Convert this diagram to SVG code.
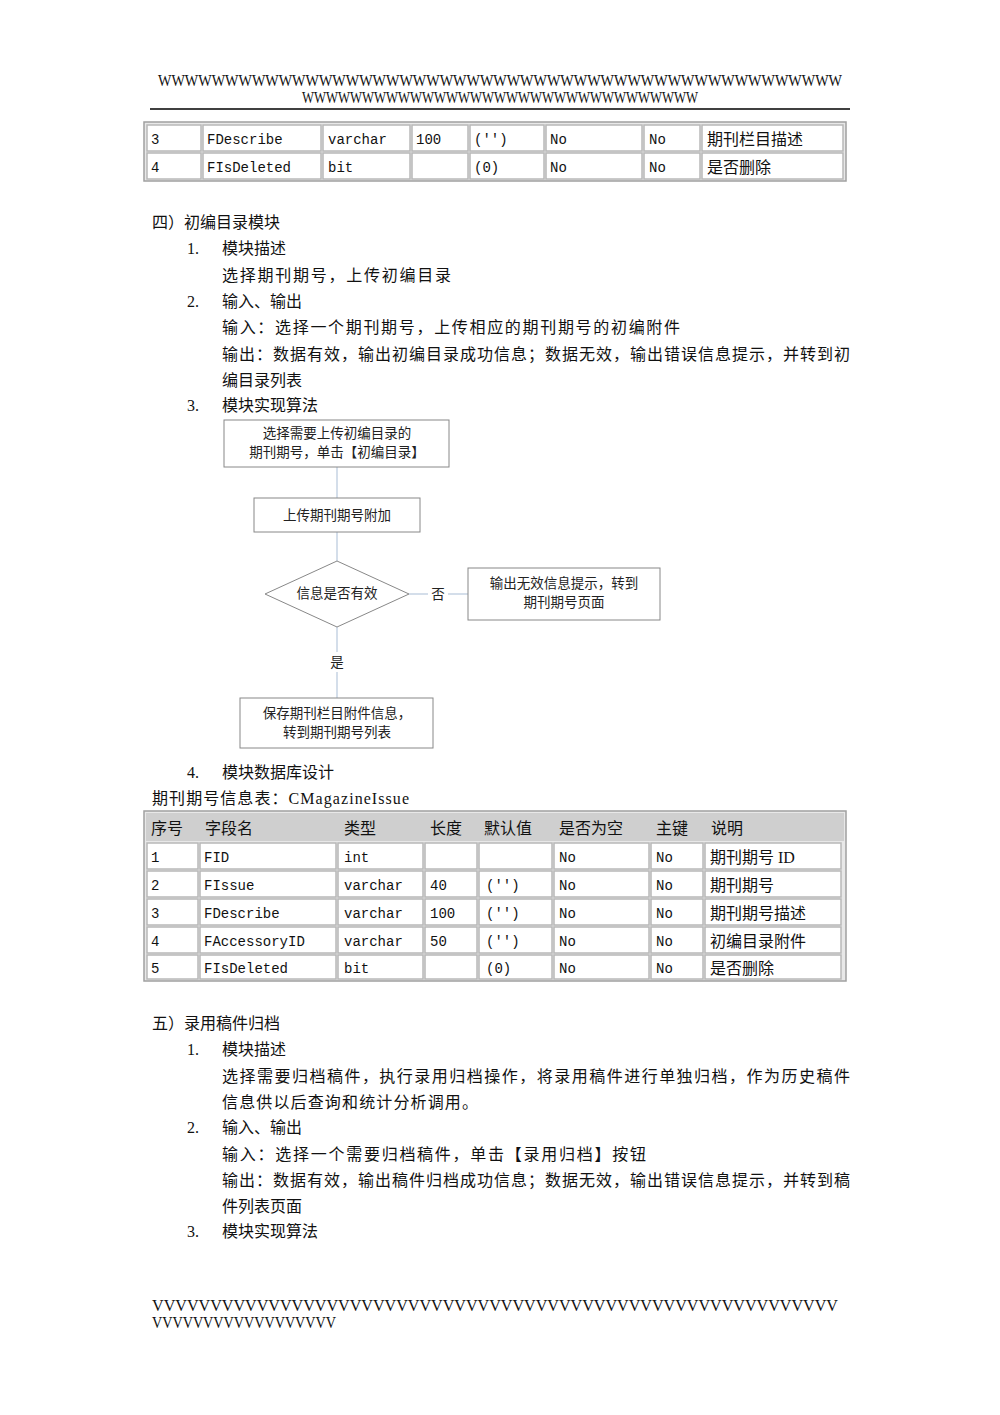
<svg xmlns="http://www.w3.org/2000/svg" width="1000" height="1415" viewBox="0 0 1000 1415">
<style>
.t{font-family:"Liberation Serif","Noto Sans CJK SC",serif;font-size:16px;fill:#111}
.m{font-family:"Liberation Mono","Noto Sans CJK SC",monospace;font-size:14px;fill:#111}
.f{font-family:"Liberation Serif","Noto Sans CJK SC",serif;font-size:13.5px;fill:#222;text-anchor:middle}
.c{fill:#fff;stroke:#b8b8b8;stroke-width:1.5}
.o{fill:#e8e8e8;stroke:#a0a0a0;stroke-width:1.5}
.b{fill:#fff;stroke:#888;stroke-width:1}
.l{stroke:#b8c8dc;stroke-width:1.2;fill:none}
</style>
<rect width="1000" height="1415" fill="#fff"/>
<text class="t" x="158" y="86" font-size="15" textLength="684" lengthAdjust="spacingAndGlyphs">WWWWWWWWWWWWWWWWWWWWWWWWWWWWWWWWWWWWWWWWWWWWWWWWWWW</text>
<text class="t" x="302" y="103" font-size="15" textLength="396" lengthAdjust="spacingAndGlyphs">WWWWWWWWWWWWWWWWWWWWWWWWWWWWWWWWW</text>
<line x1="150" y1="109" x2="850" y2="109" stroke="#000" stroke-width="1.5"/>
<g id="table1">
<rect class="o" x="144" y="122" width="702" height="59"/>
<g>
<rect class="c" x="147" y="125" width="54" height="26"/><rect class="c" x="203" y="125" width="118" height="26"/><rect class="c" x="323" y="125" width="87" height="26"/><rect class="c" x="412" y="125" width="56" height="26"/><rect class="c" x="470" y="125" width="74" height="26"/><rect class="c" x="546" y="125" width="96" height="26"/><rect class="c" x="644" y="125" width="56" height="26"/><rect class="c" x="702" y="125" width="141" height="26"/>
<rect class="c" x="147" y="153" width="54" height="26"/><rect class="c" x="203" y="153" width="118" height="26"/><rect class="c" x="323" y="153" width="87" height="26"/><rect class="c" x="412" y="153" width="56" height="26"/><rect class="c" x="470" y="153" width="74" height="26"/><rect class="c" x="546" y="153" width="96" height="26"/><rect class="c" x="644" y="153" width="56" height="26"/><rect class="c" x="702" y="153" width="141" height="26"/>
</g>
<text class="m" x="151" y="144">3</text><text class="m" x="207" y="144">FDescribe</text><text class="m" x="328" y="144">varchar</text><text class="m" x="416" y="144">100</text><text class="m" x="474" y="144">('')</text><text class="m" x="550" y="144">No</text><text class="m" x="649" y="144">No</text><text class="t" x="707" y="145">期刊栏目描述</text>
<text class="m" x="151" y="172">4</text><text class="m" x="207" y="172">FIsDeleted</text><text class="m" x="328" y="172">bit</text><text class="m" x="474" y="172">(0)</text><text class="m" x="550" y="172">No</text><text class="m" x="649" y="172">No</text><text class="t" x="707" y="173">是否删除</text>
</g>
<g id="text1">
<text class="t" x="152" y="228">四）初编目录模块</text>
<text class="t" x="187" y="254">1.</text><text class="t" x="222" y="254">模块描述</text>
<text class="t" x="222" y="281" textLength="229">选择期刊期号，上传初编目录</text>
<text class="t" x="187" y="307">2.</text><text class="t" x="222" y="307">输入、输出</text>
<text class="t" x="222" y="333" textLength="458">输入：选择一个期刊期号，上传相应的期刊期号的初编附件</text>
<text class="t" x="222" y="360" textLength="628">输出：数据有效，输出初编目录成功信息；数据无效，输出错误信息提示，并转到初</text>
<text class="t" x="222" y="386">编目录列表</text>
<text class="t" x="187" y="411">3.</text><text class="t" x="222" y="411">模块实现算法</text>
</g>
<g id="connectors">
<line class="l" x1="337" y1="467" x2="337" y2="498"/>
<line class="l" x1="337" y1="532" x2="337" y2="561"/>
<line class="l" x1="409" y1="594" x2="428" y2="594"/>
<line class="l" x1="448" y1="594" x2="468" y2="594"/>
<line class="l" x1="337" y1="627" x2="337" y2="652"/>
<line class="l" x1="337" y1="672" x2="337" y2="698"/>
<text class="f" x="438" y="599">否</text>
<text class="f" x="337" y="667">是</text>
</g>
<g id="n1"><rect class="b" x="224" y="420" width="225" height="47"/><text class="f" x="337" y="438">选择需要上传初编目录的</text><text class="f" x="337" y="457">期刊期号，单击【初编目录】</text></g>
<g id="n2"><rect class="b" x="254" y="498" width="166" height="34"/><text class="f" x="337" y="520">上传期刊期号附加</text></g>
<g id="n3"><polygon class="b" points="265,594 337,561 409,594 337,627"/><text class="f" x="337" y="598">信息是否有效</text></g>
<g id="n4"><rect class="b" x="468" y="568" width="192" height="52"/><text class="f" x="564" y="588">输出无效信息提示，转到</text><text class="f" x="564" y="607">期刊期号页面</text></g>
<g id="n5"><rect class="b" x="240" y="698" width="193" height="50"/><text class="f" x="337" y="718">保存期刊栏目附件信息，</text><text class="f" x="337" y="737">转到期刊期号列表</text></g>
<g id="text2">
<text class="t" x="187" y="778">4.</text><text class="t" x="222" y="778">模块数据库设计</text>
<text class="t" x="152" y="804" textLength="257">期刊期号信息表：CMagazineIssue</text>
</g>
<g id="table2">
<rect class="o" x="144" y="811" width="702" height="170"/>
<rect x="146" y="813" width="698" height="28" fill="#cfcfcf"/>
<text class="t" x="151" y="834">序号</text><text class="t" x="205" y="834">字段名</text><text class="t" x="344" y="834">类型</text><text class="t" x="430" y="834">长度</text><text class="t" x="484" y="834">默认值</text><text class="t" x="559" y="834">是否为空</text><text class="t" x="656" y="834">主键</text><text class="t" x="711" y="834">说明</text>
<g>
<rect class="c" x="147" y="843" width="51" height="26"/><rect class="c" x="200" y="843" width="136" height="26"/><rect class="c" x="338" y="843" width="85" height="26"/><rect class="c" x="425" y="843" width="52" height="26"/><rect class="c" x="479" y="843" width="73" height="26"/><rect class="c" x="554" y="843" width="95" height="26"/><rect class="c" x="651" y="843" width="52" height="26"/><rect class="c" x="705" y="843" width="136" height="26"/>
<rect class="c" x="147" y="871" width="51" height="26"/><rect class="c" x="200" y="871" width="136" height="26"/><rect class="c" x="338" y="871" width="85" height="26"/><rect class="c" x="425" y="871" width="52" height="26"/><rect class="c" x="479" y="871" width="73" height="26"/><rect class="c" x="554" y="871" width="95" height="26"/><rect class="c" x="651" y="871" width="52" height="26"/><rect class="c" x="705" y="871" width="136" height="26"/>
<rect class="c" x="147" y="899" width="51" height="26"/><rect class="c" x="200" y="899" width="136" height="26"/><rect class="c" x="338" y="899" width="85" height="26"/><rect class="c" x="425" y="899" width="52" height="26"/><rect class="c" x="479" y="899" width="73" height="26"/><rect class="c" x="554" y="899" width="95" height="26"/><rect class="c" x="651" y="899" width="52" height="26"/><rect class="c" x="705" y="899" width="136" height="26"/>
<rect class="c" x="147" y="927" width="51" height="26"/><rect class="c" x="200" y="927" width="136" height="26"/><rect class="c" x="338" y="927" width="85" height="26"/><rect class="c" x="425" y="927" width="52" height="26"/><rect class="c" x="479" y="927" width="73" height="26"/><rect class="c" x="554" y="927" width="95" height="26"/><rect class="c" x="651" y="927" width="52" height="26"/><rect class="c" x="705" y="927" width="136" height="26"/>
<rect class="c" x="147" y="955" width="51" height="24"/><rect class="c" x="200" y="955" width="136" height="24"/><rect class="c" x="338" y="955" width="85" height="24"/><rect class="c" x="425" y="955" width="52" height="24"/><rect class="c" x="479" y="955" width="73" height="24"/><rect class="c" x="554" y="955" width="95" height="24"/><rect class="c" x="651" y="955" width="52" height="24"/><rect class="c" x="705" y="955" width="136" height="24"/>
</g>
<text class="m" x="151" y="862">1</text><text class="m" x="204" y="862">FID</text><text class="m" x="344" y="862">int</text><text class="m" x="559" y="862">No</text><text class="m" x="656" y="862">No</text><text class="t" x="710" y="863">期刊期号 ID</text>
<text class="m" x="151" y="890">2</text><text class="m" x="204" y="890">FIssue</text><text class="m" x="344" y="890">varchar</text><text class="m" x="430" y="890">40</text><text class="m" x="486" y="890">('')</text><text class="m" x="559" y="890">No</text><text class="m" x="656" y="890">No</text><text class="t" x="710" y="891">期刊期号</text>
<text class="m" x="151" y="918">3</text><text class="m" x="204" y="918">FDescribe</text><text class="m" x="344" y="918">varchar</text><text class="m" x="430" y="918">100</text><text class="m" x="486" y="918">('')</text><text class="m" x="559" y="918">No</text><text class="m" x="656" y="918">No</text><text class="t" x="710" y="919">期刊期号描述</text>
<text class="m" x="151" y="946">4</text><text class="m" x="204" y="946">FAccessoryID</text><text class="m" x="344" y="946">varchar</text><text class="m" x="430" y="946">50</text><text class="m" x="486" y="946">('')</text><text class="m" x="559" y="946">No</text><text class="m" x="656" y="946">No</text><text class="t" x="710" y="947">初编目录附件</text>
<text class="m" x="151" y="973">5</text><text class="m" x="204" y="973">FIsDeleted</text><text class="m" x="344" y="973">bit</text><text class="m" x="486" y="973">(0)</text><text class="m" x="559" y="973">No</text><text class="m" x="656" y="973">No</text><text class="t" x="710" y="974">是否删除</text>
</g>
<g id="text3">
<text class="t" x="152" y="1029">五）录用稿件归档</text>
<text class="t" x="187" y="1055">1.</text><text class="t" x="222" y="1055">模块描述</text>
<text class="t" x="222" y="1082" textLength="628">选择需要归档稿件，执行录用归档操作，将录用稿件进行单独归档，作为历史稿件</text>
<text class="t" x="222" y="1108" textLength="256">信息供以后查询和统计分析调用。</text>
<text class="t" x="187" y="1133">2.</text><text class="t" x="222" y="1133">输入、输出</text>
<text class="t" x="222" y="1160" textLength="424">输入：选择一个需要归档稿件，单击【录用归档】按钮</text>
<text class="t" x="222" y="1186" textLength="628">输出：数据有效，输出稿件归档成功信息；数据无效，输出错误信息提示，并转到稿</text>
<text class="t" x="222" y="1212">件列表页面</text>
<text class="t" x="187" y="1237">3.</text><text class="t" x="222" y="1237">模块实现算法</text>
<text class="t" x="152" y="1311" font-size="15" textLength="686" lengthAdjust="spacingAndGlyphs">VVVVVVVVVVVVVVVVVVVVVVVVVVVVVVVVVVVVVVVVVVVVVVVVVVVVVVVVVVV</text>
<text class="t" x="152" y="1328" font-size="15" textLength="184" lengthAdjust="spacingAndGlyphs">VVVVVVVVVVVVVVVVVV</text>
</g>
</svg>
